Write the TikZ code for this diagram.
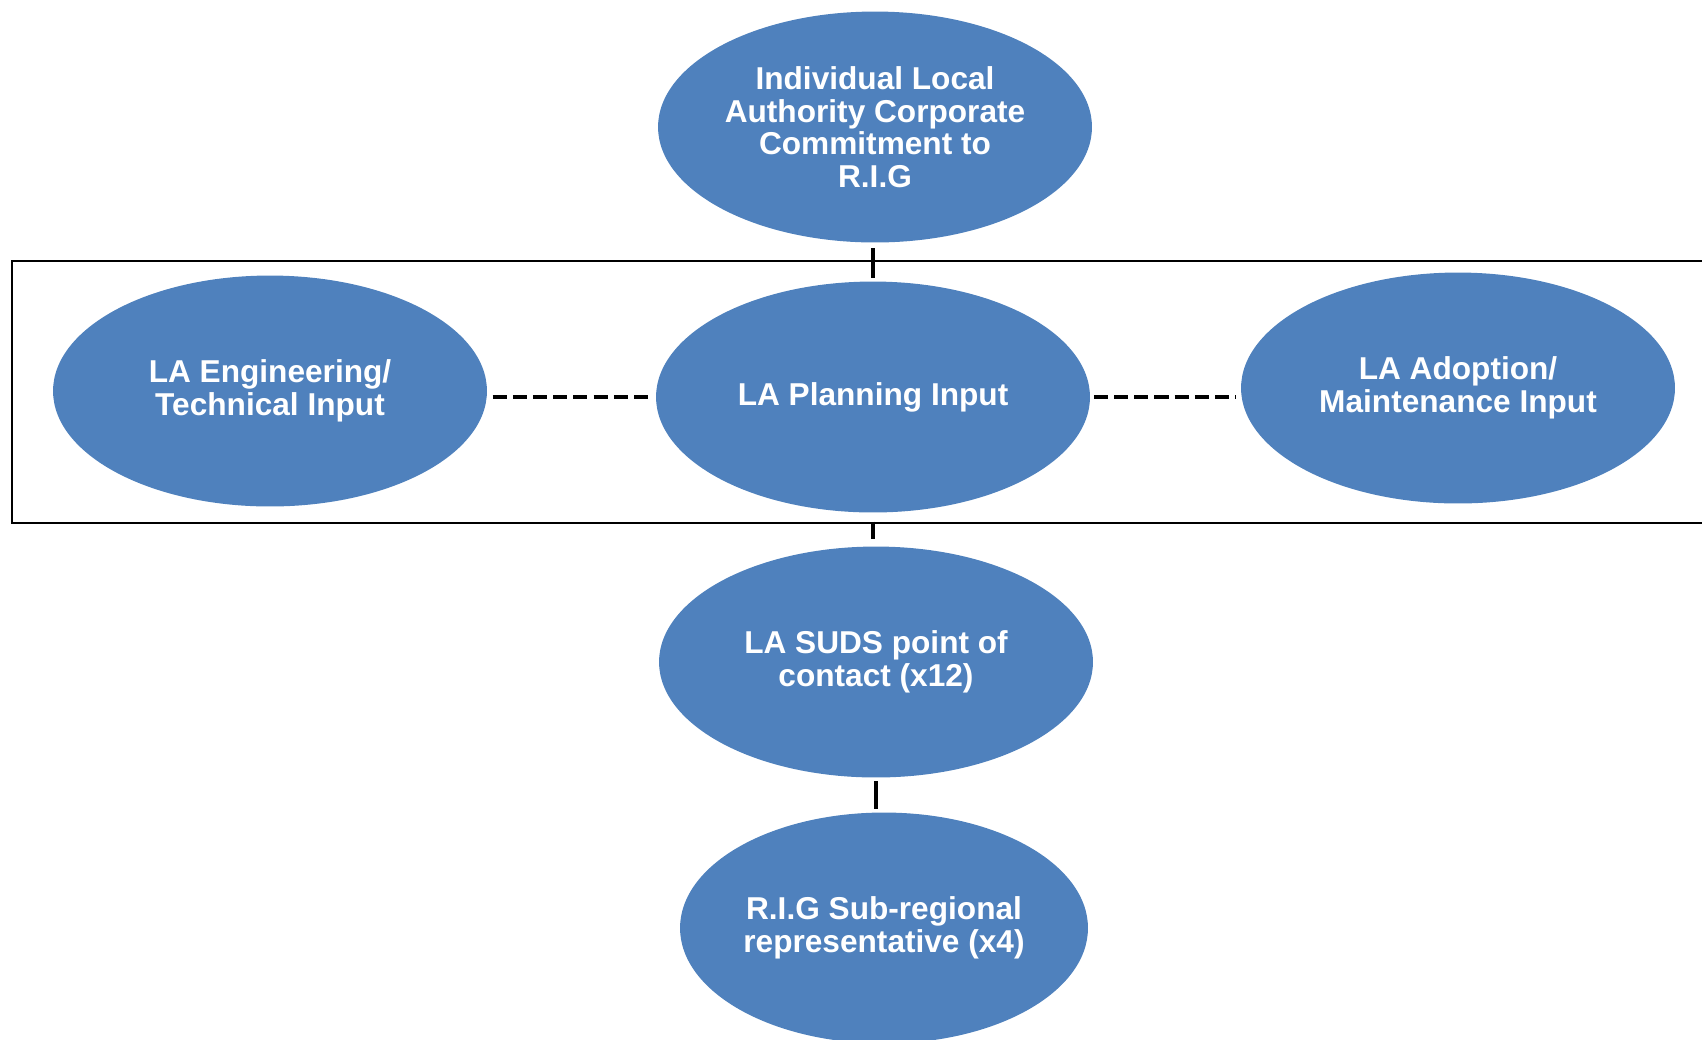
\documentclass[tikz,border=0pt]{standalone}
\usepackage{fontspec}
\setmainfont{Liberation Sans}
\usetikzlibrary{shapes.geometric}
\definecolor{ovalblue}{RGB}{79,129,189}

\begin{document}
\begin{tikzpicture}[x=0.02cm,y=-0.02cm,
    oval/.style={ellipse,fill=ovalblue,minimum width=8.68cm,minimum height=4.62cm,inner sep=0pt,align=center,text=white,font=\fontsize{18}{18.5}\selectfont\bfseries},
    conn/.style={line width=2.6pt,black},
    dconn/.style={line width=2.6pt,black,dash pattern=on 8pt off 3.5pt}]
    \useasboundingbox (0,0) rectangle (1702,1039);
    % Ramen
    \draw [line width=1pt] (12,261) rectangle (1712,523);
    % Noder
    \node (top) [oval] at (875,127) {Individual Local\\Authority Corporate\\Commitment to\\R.I.G};
    \node (plan) [oval] at (873,397) {LA Planning Input};
    \node (eng) [oval] at (270,391) {LA Engineering/\\Technical Input};
    \node (adopt) [oval] at (1458,388) {LA Adoption/\\Maintenance Input};
    \node (suds) [oval] at (876,662) {LA SUDS point of\\contact (x12)};
    \node (rig) [oval,minimum width=8.16cm] at (884,928) {R.I.G Sub-regional\\representative (x4)};
    % Linjerna
    \draw [conn,shorten <=3pt,shorten >=2pt] (plan.north |- top.south) -- (plan.north);
    \draw [conn,shorten <=5pt,shorten >=4pt] (plan.south) -- (plan.south |- suds.north);
    \draw [conn,shorten <=2pt,shorten >=2pt] (suds.south) -- (suds.south |- rig.north);
    \draw [dconn,shorten <=3pt,shorten >=2pt] (eng.east |- plan.west) -- (plan.west);
    \draw [dconn,shorten <=2pt,shorten >=3pt] (plan.east) -- (plan.east -| adopt.west);
\end{tikzpicture}
\end{document}
